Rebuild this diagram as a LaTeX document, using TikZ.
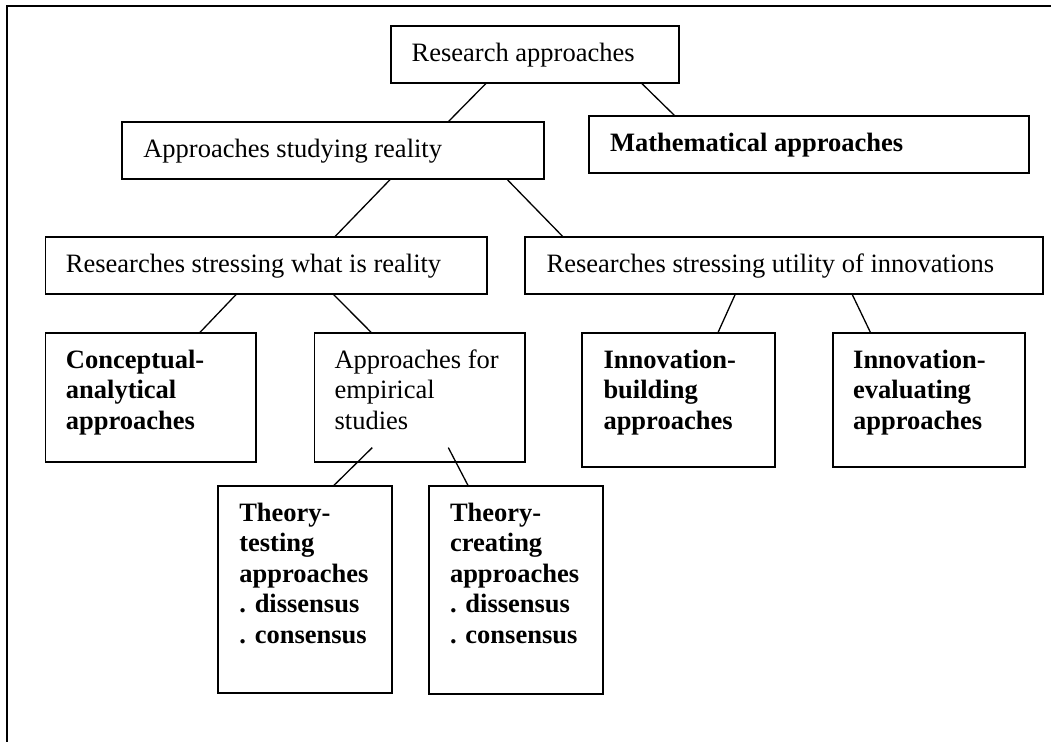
\documentclass[tikz,border=0pt]{standalone}
\usepackage{fontspec}
\setmainfont{Liberation Serif}
\usetikzlibrary{calc}
\tikzset{
  boxst/.style={draw, line width=0.85pt, inner ysep=0pt, outer sep=0pt, anchor=north west,
    font=\fontsize{13.25}{15.25}\selectfont},
  conn/.style={line width=0.65pt},
  frame/.style={line width=1pt}
}
% name, x1, y1, x2, y2, pad (px), text
\newcommand\bx[7]{\node[boxst, inner xsep={#6*0.5pt}] (#1) at (#2,#3)
  {\parbox[t][\dimexpr(#5pt-#3pt)/2\relax][t]{\dimexpr(#4pt-#2pt)/2-#6pt\relax}{\raggedright\rule{0pt}{17.75pt}#7}};}
\begin{document}
\begin{tikzpicture}[x=0.5pt,y=-0.5pt]
\useasboundingbox (0,0) rectangle (1051,742);
\draw[frame] (7.3,742) -- (7.3,6.3) -- (1051,6.3);
\bx{ra}{391}{25.7}{679}{82.7}{20.7}{Research approaches}
\bx{ma}{589.3}{116}{1029.3}{173.3}{20.7}{\bfseries Mathematical approaches}
\bx{sr}{122}{121.7}{544.3}{179}{21.3}{Approaches studying reality}
\bx{rw}{45.6}{237}{486.7}{294}{20.3}{Researches stressing what is reality}
\bx{ru}{525}{237}{1043}{294}{21.7}{Researches stressing utility of innovations}
\bx{ca}{45.6}{333}{256}{462}{20.3}{\bfseries Conceptual-\\analytical\\approaches}
\bx{ae}{314.4}{333}{525}{462}{20.2}{Approaches for\\empirical\\studies}
\bx{ib}{582}{333}{775}{467}{21.5}{\bfseries Innovation-\\building\\approaches}
\bx{ie}{832.7}{333}{1025.3}{467}{20.5}{\bfseries Innovation-\\evaluating\\approaches}
\bx{tt}{218.3}{486}{391.7}{693.3}{21}{\bfseries Theory-\\testing\\approaches\\. dissensus\\. consensus}
\bx{tc}{429.3}{486}{602.7}{694}{20.7}{\bfseries Theory-\\creating\\approaches\\. dissensus\\. consensus}
\draw[conn] ($(ra.south west)+(95.7,0)$) -- ($(sr.north west)+(326.3,0)$);
\draw[conn] ($(ra.south west)+(250,0)$) -- ($(ma.north west)+(85.7,0)$);
\draw[conn] ($(sr.south west)+(268.7,0)$) -- ($(rw.north west)+(289,0)$);
\draw[conn] ($(sr.south west)+(384.7,0)$) -- ($(ru.north west)+(38.2,0)$);
\draw[conn] ($(rw.south west)+(191,0)$) -- ($(ca.north west)+(153.8,0)$);
\draw[conn] ($(rw.south west)+(287.4,0)$) -- ($(ae.north west)+(57.4,0)$);
\draw[conn] ($(ru.south west)+(210.4,0)$) -- ($(ib.north west)+(135.8,0)$);
\draw[conn] ($(ru.south west)+(327,0)$) -- ($(ie.north west)+(38,0)$);
\draw[conn] ($(ae.south west)+(57.9,-14.4)$) -- ($(tt.north west)+(115,0)$);
\draw[conn] ($(ae.south west)+(133.9,-14.4)$) -- ($(tc.north west)+(39,0)$);
\end{tikzpicture}
\end{document}
